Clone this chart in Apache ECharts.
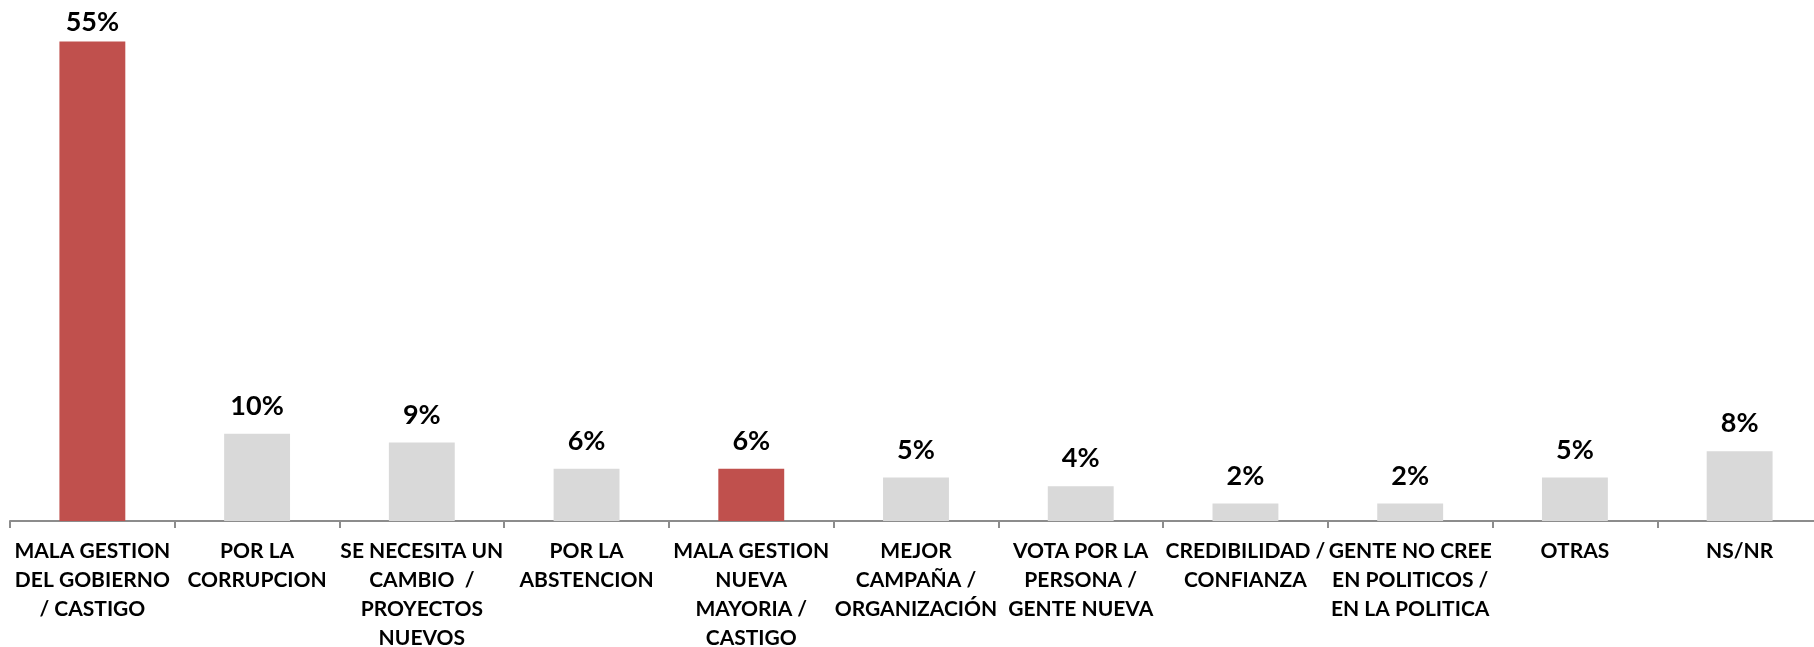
<!DOCTYPE html>
<html>
<head>
<meta charset="utf-8">
<script src="https://cdn.jsdelivr.net/npm/echarts@6/dist/echarts.min.js"></script>
<style>
html,body{margin:0;padding:0;background:#fff;}
#chart{width:1814px;height:647px;}
</style>
</head>
<body>
<div id="chart"></div>
<script>
const categories = [
  "MALA GESTION\nDEL GOBIERNO\n/ CASTIGO",
  "POR LA\nCORRUPCION",
  "SE NECESITA UN\nCAMBIO  /\nPROYECTOS\nNUEVOS",
  "POR LA\nABSTENCION",
  "MALA GESTION\nNUEVA\nMAYORIA /\nCASTIGO",
  "MEJOR\nCAMPAÑA /\nORGANIZACIÓN",
  "VOTA POR LA\nPERSONA /\nGENTE NUEVA",
  "CREDIBILIDAD /\nCONFIANZA",
  "GENTE NO CREE\nEN POLITICOS /\nEN LA POLITICA",
  "OTRAS",
  "NS/NR"
];
const values = [55, 10, 9, 6, 6, 5, 4, 2, 2, 5, 8];
const highlighted = [true, false, false, false, true, false, false, false, false, false, false];

const RED = "#C0504D", GRAY = "#D9D9D9";
const chart = echarts.init(document.getElementById("chart"), null, {renderer: "canvas"});
chart.setOption({
  animation: false,
  grid: {left: 10, right: -8, top: -2, bottom: 126, outerBoundsMode: "none", containLabel: false},
  xAxis: {
    type: "category",
    data: categories,
    axisLine: {lineStyle: {color: "#8c8c8c", width: 2}},
    axisTick: {show: true, length: 7, lineStyle: {color: "#8c8c8c", width: 2}},
    axisLabel: {
      interval: 0,
      margin: 16,
      color: "#000",
      fontFamily: "Lato",
      fontWeight: "bold",
      fontSize: 21,
      lineHeight: 29
    }
  },
  yAxis: {
    type: "value", min: 0, max: 60,
    show: false,
    splitLine: {show: false}
  },
  series: [{
    type: "bar",
    barWidth: "40%",
    data: values.map((v, i) => ({
      value: v,
      itemStyle: {color: highlighted[i] ? RED : GRAY},
      label: i === 0 ? {distance: 6} : undefined
    })),
    label: {
      show: true,
      position: "top",
      distance: 14,
      formatter: p => p.value + "%",
      color: "#000",
      fontFamily: "Lato",
      fontWeight: "bold",
      fontSize: 27
    }
  }]
});
</script>
</body>
</html>
